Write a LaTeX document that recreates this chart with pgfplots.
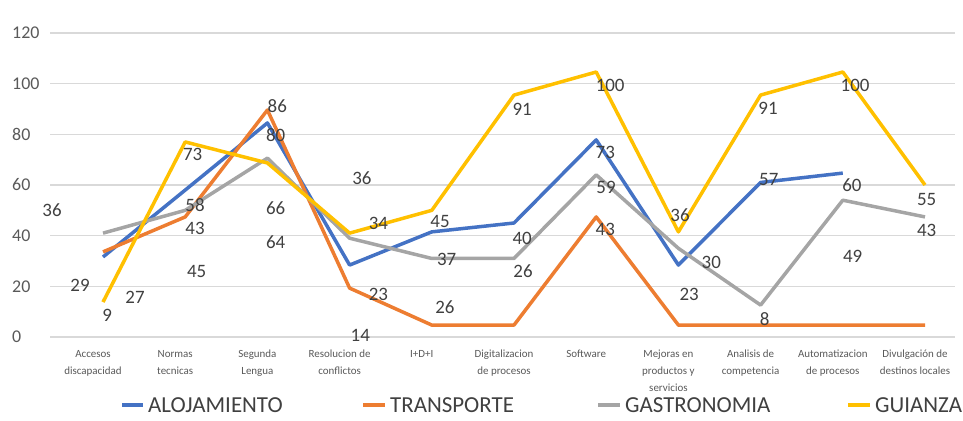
\documentclass[border=0pt]{standalone}
\usepackage{fontspec}
\setmainfont{Carlito}
\usepackage{pgfplots}
\pgfplotsset{compat=1.18}
\usetikzlibrary{calc}
\definecolor{cBlue}{HTML}{4472C4}
\definecolor{cOrange}{HTML}{ED7D31}
\definecolor{cGray}{HTML}{A5A5A5}
\definecolor{cYellow}{HTML}{FFC000}
\definecolor{cGrid}{HTML}{D9D9D9}
\definecolor{cTick}{HTML}{595959}
\definecolor{cLbl}{HTML}{404040}
\tikzset{
    lbl/.style={font=\fontsize{19}{20}\selectfont, text=cLbl, inner sep=0pt},
    lg/.style={font=\fontsize{23}{24}\selectfont, text=cLbl, anchor=west, inner sep=0pt},
}

\begin{document}
\begin{tikzpicture}
\begin{axis}[
    name=ax,
    scale only axis,
    width=905bp, height=304bp,
    xmin=-0.645, xmax=10.365,
    ymin=0, ymax=120,
    ytick={0,20,...,120},
    xtick={0,...,10},
    xticklabels={{Accesos\\discapacidad},{Normas\\tecnicas},{Segunda\\Lengua},{Resolucion de\\conflictos},{I+D+I},{Digitalizacion\\de procesos},{Software},{Mejoras en\\productos y\\servicios},{Analisis de\\competencia},{Automatizacion\\de procesos},{Divulgación de\\destinos locales}},
    axis line style={draw=none},
    major tick length=0pt,
    ymajorgrids,
    grid style={cGrid, line width=1.3bp},
    clip=false,
    /pgf/number format/assume math mode=true,
    yticklabel style={font=\fontsize{18}{20}\selectfont, text=cTick, anchor=west, inner sep=0pt, xshift=-38bp},
    xticklabel style={font=\fontsize{11}{17}\selectfont, text=cTick, align=center, xshift=-10bp, anchor=north, inner sep=0pt, yshift=-13bp},
    every axis plot/.append style={line width=3.5bp, line join=round},
]
% ALOJAMIENTO
\addplot[cBlue] coordinates {
    (0,31.6) (1,58) (2,84.5) (3,28.4) (4,41.5) (5,45) (6,77.8) (7,28.4) (8,61) (9,64.7)
};
% TRANSPORTE
\addplot[cOrange] coordinates {
    (0,33.6) (1,47.4) (2,89.6) (3,19.3) (4,4.7) (5,4.7) (6,47.4) (7,4.7) (8,4.7) (9,4.7) (10,4.7)
};
% GASTRONOMIA
\addplot[cGray] coordinates {
    (0,41) (1,50) (2,70.6) (3,39) (4,31) (5,31) (6,64) (7,35) (8,12.6) (9,54) (10,47.4)
};
% GUIANZA
\addplot[cYellow] coordinates {
    (0,13.8) (1,77) (2,68.7) (3,41) (4,50) (5,95.5) (6,104.6) (7,41.5) (8,95.5) (9,104.6) (10,60)
};
% data labels
\node[lbl] at (axis cs:-0.62,50.1) {36};
\node[lbl] at (axis cs:-0.28,20.5) {29};
\node[lbl] at (axis cs:0.05,8.7) {9};
\node[lbl] at (axis cs:0.39,15.8) {27};
\node[lbl] at (axis cs:1.09,71.9) {73};
\node[lbl] at (axis cs:1.12,52.1) {58};
\node[lbl] at (axis cs:1.12,43.0) {43};
\node[lbl] at (axis cs:1.14,25.7) {45};
\node[lbl] at (axis cs:2.12,91.2) {86};
\node[lbl] at (axis cs:2.10,79.7) {80};
\node[lbl] at (axis cs:2.10,50.9) {66};
\node[lbl] at (axis cs:2.10,37.5) {64};
\node[lbl] at (axis cs:3.15,62.8) {36};
\node[lbl] at (axis cs:3.35,45.0) {34};
\node[lbl] at (axis cs:3.35,17.0) {23};
\node[lbl] at (axis cs:3.13,0.8) {14};
\node[lbl] at (axis cs:4.10,45.4) {45};
\node[lbl] at (axis cs:4.18,30.8) {37};
\node[lbl] at (axis cs:4.16,11.8) {26};
\node[lbl] at (axis cs:5.10,90.0) {91};
\node[lbl] at (axis cs:5.10,39.1) {40};
\node[lbl] at (axis cs:5.11,26.1) {26};
\node[lbl] at (axis cs:6.17,99.5) {100};
\node[lbl] at (axis cs:6.11,73.0) {73};
\node[lbl] at (axis cs:6.12,59.2) {59};
\node[lbl] at (axis cs:6.11,42.6) {43};
\node[lbl] at (axis cs:7.02,48.2) {36};
\node[lbl] at (axis cs:7.40,29.6) {30};
\node[lbl] at (axis cs:7.13,17.0) {23};
\node[lbl] at (axis cs:8.09,90.4) {91};
\node[lbl] at (axis cs:8.10,62.0) {57};
\node[lbl] at (axis cs:8.05,7.1) {8};
\node[lbl] at (axis cs:9.15,99.5) {100};
\node[lbl] at (axis cs:9.11,60.0) {60};
\node[lbl] at (axis cs:9.12,32.0) {49};
\node[lbl] at (axis cs:10.02,54.1) {55};
\node[lbl] at (axis cs:10.02,42.2) {43};
\end{axis}
% legend
\begin{scope}[shift={(ax.south west)}]
\draw[cBlue, line width=4bp] (72bp,-68bp) -- (93bp,-68bp);
\node[lg] at (98bp,-68bp) {ALOJAMIENTO};
\draw[cOrange, line width=4bp] (313bp,-68bp) -- (335bp,-68bp);
\node[lg] at (340bp,-68bp) {TRANSPORTE};
\draw[cGray, line width=4bp] (548bp,-68bp) -- (570bp,-68bp);
\node[lg] at (575bp,-68bp) {GASTRONOMIA};
\draw[cYellow, line width=4bp] (798bp,-68bp) -- (820bp,-68bp);
\node[lg] at (825bp,-68bp) {GUIANZA};
\end{scope}
\pgfresetboundingbox
\path[use as bounding box] ($(ax.south west)+(-50bp,-84bp)$) rectangle ($(ax.south west)+(913bp,337bp)$);
\end{tikzpicture}
\end{document}
